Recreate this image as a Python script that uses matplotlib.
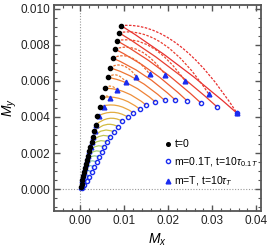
import numpy as np
import matplotlib
matplotlib.use("Agg")
import matplotlib.pyplot as plt
from matplotlib.path import Path
from matplotlib.patches import PathPatch
from matplotlib.lines import Line2D
from matplotlib.colors import LinearSegmentedColormap
from matplotlib.ticker import MultipleLocator, FormatStrFormatter

plt.rcParams["font.family"] = ["Liberation Sans", "DejaVu Sans"]
plt.rcParams["mathtext.fontset"] = "custom"
plt.rcParams["mathtext.rm"] = "Liberation Sans"
plt.rcParams["mathtext.it"] = "Liberation Sans:italic"

# t=0 starting points (black dots), top curve first
x0 = [0.00925, 0.00875, 0.00834, 0.00784, 0.00732, 0.00670, 0.00625, 0.00564, 0.00500,
      0.00443, 0.00386, 0.00352, 0.00318, 0.00289, 0.00257, 0.00227, 0.00200, 0.00177,
      0.00155, 0.00132, 0.00109, 0.00086, 0.00066, 0.00045, 0.00027, 0.00011]
y0 = [0.00906, 0.00867, 0.00822, 0.00776, 0.00726, 0.00672, 0.00619, 0.00559, 0.00508,
      0.00456, 0.00403, 0.00357, 0.00322, 0.00291, 0.00263, 0.00236, 0.00211, 0.00186,
      0.00164, 0.00142, 0.00119, 0.00097, 0.00075, 0.00053, 0.00031, 0.00011]

# m=0.1T, t=10 tau_0.1T end points (open circles)
xc = [0.03561, 0.03107, 0.02739, 0.02420, 0.02159, 0.01916, 0.01705, 0.01495, 0.01348,
      0.01198, 0.01075, 0.00943, 0.00852, 0.00761, 0.00682, 0.00614, 0.00545, 0.00484,
      0.00425, 0.00368, 0.00311, 0.00255, 0.00198, 0.00141, 0.00084, 0.00034]
yc = [0.00421, 0.00456, 0.00478, 0.00491, 0.00494, 0.00492, 0.00483, 0.00466, 0.00444,
      0.00424, 0.00400, 0.00378, 0.00347, 0.00317, 0.00289, 0.00261, 0.00233, 0.00206,
      0.00178, 0.00150, 0.00122, 0.00094, 0.00067, 0.00044, 0.00022, 0.00006]
# a point half way along each m=0.1T trajectory
xcm = [0.02243, 0.01991, 0.01786, 0.01602, 0.01445, 0.01293, 0.01166, 0.01030, 0.00925,
       0.00820, 0.00732, 0.00648, 0.00586, 0.00525, 0.00470, 0.00420, 0.00373, 0.00332,
       0.00291, 0.00250, 0.00211, 0.00170, 0.00132, 0.00093, 0.00057, 0.00023]
ycm = [0.00685, 0.00683, 0.00672, 0.00656, 0.00633, 0.00606, 0.00575, 0.00536, 0.00500,
       0.00464, 0.00426, 0.00392, 0.00358, 0.00326, 0.00296, 0.00267, 0.00239, 0.00211,
       0.00184, 0.00157, 0.00131, 0.00104, 0.00077, 0.00053, 0.00029, 0.00010]

# m=T, t=10 tau_T end points (triangles)
xt = [0.03561, 0.02916, 0.02386, 0.01932, 0.01575, 0.01273, 0.01034, 0.00834, 0.00670,
      0.00534, 0.00420, 0.00366, 0.00328, 0.00297, 0.00263, 0.00233, 0.00206, 0.00182,
      0.00159, 0.00135, 0.00111, 0.00088, 0.00067, 0.00046, 0.00028, 0.00012]
yt = [0.00421, 0.00528, 0.00598, 0.00633, 0.00637, 0.00624, 0.00594, 0.00550, 0.00504,
      0.00457, 0.00406, 0.00358, 0.00323, 0.00291, 0.00263, 0.00236, 0.00211, 0.00186,
      0.00164, 0.00142, 0.00119, 0.00097, 0.00075, 0.00053, 0.00031, 0.00011]
# a point half way along each m=T trajectory
xtm = [0.02227, 0.01895, 0.01611, 0.01359, 0.01155, 0.00973, 0.00830, 0.00700, 0.00591,
       0.00489, 0.00403, 0.00359, 0.00323, 0.00293, 0.00260, 0.00230, 0.00203, 0.00180,
       0.00157, 0.00134, 0.00110, 0.00087, 0.00066, 0.00046, 0.00028, 0.00012]
ytm = [0.00800, 0.00803, 0.00788, 0.00766, 0.00729, 0.00684, 0.00632, 0.00571, 0.00517,
       0.00462, 0.00406, 0.00358, 0.00323, 0.00291, 0.00263, 0.00236, 0.00211, 0.00186,
       0.00164, 0.00142, 0.00119, 0.00097, 0.00075, 0.00053, 0.00031, 0.00011]

cmap = LinearSegmentedColormap.from_list(
    "traj", ["#e83030", "#ee6a30", "#eea040", "#cfc040", "#a8d070", "#70c0d8", "#2838e8"])


def curve_through(ax, p0, pm, p2, **kw):
    # quadratic Bezier passing through pm at its middle
    p0, pm, p2 = np.asarray(p0), np.asarray(pm), np.asarray(p2)
    ctrl = 2 * pm - 0.5 * (p0 + p2)
    path = Path([p0, ctrl, p2], [Path.MOVETO, Path.CURVE3, Path.CURVE3])
    ax.add_patch(PathPatch(path, fill=False, **kw))


fig = plt.figure(figsize=(2.67, 2.49), dpi=100)
ax = fig.add_axes([0.202, 0.153, 0.776, 0.827])

ax.axvline(0, color="#999999", lw=0.8, ls=(0, (1, 1.5)), zorder=0)
ax.axhline(0, color="#999999", lw=0.8, ls=(0, (1, 1.5)), zorder=0)

n = len(x0)
for i in range(n):
    col = cmap(i / (n - 1))
    curve_through(ax, (x0[i], y0[i]), (xcm[i], ycm[i]), (xc[i], yc[i]),
                  edgecolor=col, lw=0.9, zorder=1)
    curve_through(ax, (x0[i], y0[i]), (xtm[i], ytm[i]), (xt[i], yt[i]),
                  edgecolor=col, lw=0.9, ls=(0, (2, 1.2)), zorder=1)

ax.plot(xt, yt, ls="none", marker="^", ms=3.4, color="#1a2cf0", zorder=3)
ax.plot(xc, yc, ls="none", marker="o", ms=3.0, mfc="none", mec="#1a2cf0", mew=1.0, zorder=3)
ax.plot(x0, y0, ls="none", marker="o", ms=3.0, color="black", zorder=4)

ax.set_xlim(-0.006, 0.0411)
ax.set_ylim(-0.0012, 0.0102)
ax.xaxis.set_major_locator(MultipleLocator(0.01))
ax.xaxis.set_minor_locator(MultipleLocator(0.002))
ax.yaxis.set_major_locator(MultipleLocator(0.002))
ax.yaxis.set_minor_locator(MultipleLocator(0.0005))
ax.xaxis.set_major_formatter(FormatStrFormatter("%.2f"))
ax.yaxis.set_major_formatter(FormatStrFormatter("%.3f"))
ax.tick_params(which="both", direction="in", top=True, right=True,
               color="#555555", labelsize=8.5, labelcolor="#222222")
ax.tick_params(which="major", length=4, width=1.0, pad=3)
ax.tick_params(which="minor", length=2, width=0.8)
for s in ax.spines.values():
    s.set_color("#555555")
    s.set_linewidth(1.3)

ax.set_xlabel("$M_x$", fontsize=10, labelpad=3)
ax.set_ylabel("$M_y$", fontsize=10, labelpad=1)

handles = [
    Line2D([], [], ls="none", marker="o", ms=2.6, color="black"),
    Line2D([], [], ls="none", marker="o", ms=3.0, mfc="none", mec="#1a2cf0", mew=1.0),
    Line2D([], [], ls="none", marker="^", ms=3.4, color="#1a2cf0"),
]
labels = ["t=0", r"m=0.1T, t=10$\tau_{0.1\,T}$", r"m=T, t=10$\tau_T$"]
ax.legend(handles, labels, loc="lower right", bbox_to_anchor=(1.0, 0.1),
          frameon=False, fontsize=7.6, handlelength=0.5, handletextpad=0.35,
          labelspacing=0.55, borderaxespad=0.0, borderpad=0.2)

fig.savefig("out.png", dpi=100)
